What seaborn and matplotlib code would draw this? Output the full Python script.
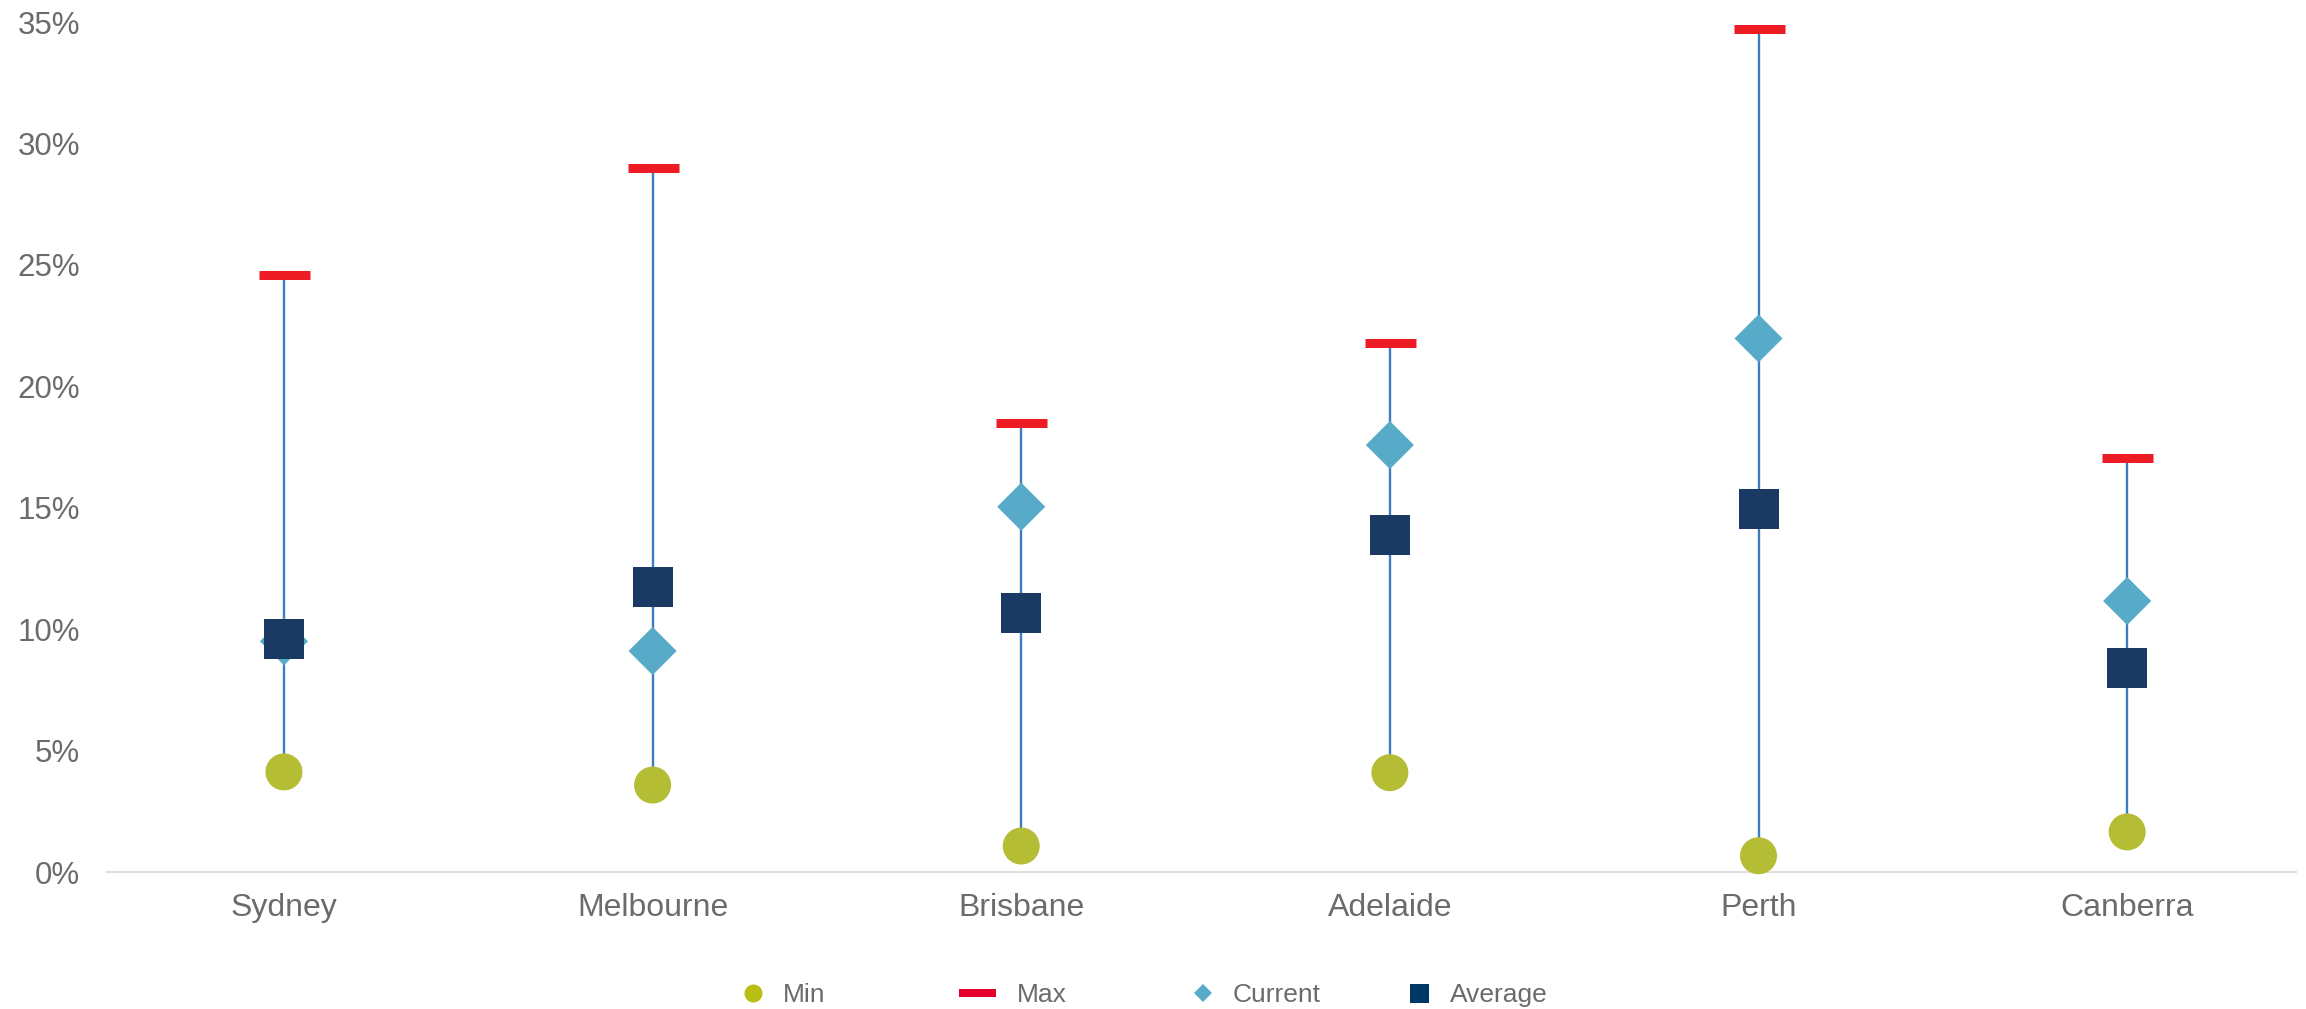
import matplotlib
matplotlib.use("Agg")
import matplotlib.pyplot as plt
from matplotlib.lines import Line2D
from matplotlib.ticker import PercentFormatter
import seaborn as sns
import pandas as pd

# ---- data (fractions) ----
cities = ["Sydney", "Melbourne", "Brisbane", "Adelaide", "Perth", "Canberra"]
min_vals = [0.0412, 0.0358, 0.0107, 0.0409, 0.0067, 0.0165]
max_vals = [0.246, 0.290, 0.185, 0.218, 0.347, 0.1705]
current_vals = [0.095, 0.091, 0.1504, 0.1758, 0.2197, 0.1116]
average_vals = [0.0960, 0.1172, 0.1066, 0.1388, 0.1495, 0.0840]
y_ticks = [0.0, 0.05, 0.10, 0.15, 0.20, 0.25, 0.30, 0.35]

df = pd.DataFrame({"city": cities, "Min": min_vals, "Max": max_vals,
                   "Current": current_vals, "Average": average_vals})

sns.set_theme(style="white")
plt.rcParams["font.family"] = ["Liberation Sans", "DejaVu Sans"]

W, H = 2306, 1009
fig = plt.figure(figsize=(W / 100, H / 100), dpi=100)
ax = fig.add_axes([107 / W, 1 - 872 / H, (2296 - 107) / W, (872 - 22) / H])

C_MIN = "#b5bd35"
C_MAX = "#ed1c24"
C_CUR = "#58abc8"
C_AVG = "#1a3a64"
C_WHISK = "#3b7dc0"
TXT = "#6b6b6b"

xpos = list(range(len(cities)))
ax.vlines(xpos, df["Min"], df["Max"], color=C_WHISK, linewidth=1.7, zorder=1)

px = 0.72  # points per pixel at dpi 100
sns.scatterplot(data=df, x="city", y="Min", ax=ax, marker="o", s=(37 * px) ** 2,
                color=C_MIN, edgecolor="none", linewidth=0, zorder=3, clip_on=False)
sns.scatterplot(data=df, x="city", y="Max", ax=ax, marker="_", s=(51 * px) ** 2,
                color=C_MAX, linewidth=9 * px, zorder=3, clip_on=False)
sns.scatterplot(data=df, x="city", y="Current", ax=ax, marker="D", s=(34 * px) ** 2,
                color=C_CUR, edgecolor="none", linewidth=0, zorder=4, clip_on=False)
sns.scatterplot(data=df, x="city", y="Average", ax=ax, marker="s", s=(40 * px) ** 2,
                color=C_AVG, edgecolor="none", linewidth=0, zorder=5, clip_on=False)

ax.set_xlim(-0.48, 5.458)
ax.set_ylim(0, 0.35)
ax.set_yticks(y_ticks)
ax.yaxis.set_major_formatter(PercentFormatter(1.0, decimals=0))
ax.set_xticks(xpos)
ax.set_xticklabels(cities)
ax.set_xlabel("")
ax.set_ylabel("")
ax.tick_params(axis="y", length=0, pad=19.5, labelsize=22.5, labelcolor=TXT)
ax.tick_params(axis="x", length=0, pad=15, labelsize=23, labelcolor=TXT)
for s in ["left", "right", "top"]:
    ax.spines[s].set_visible(False)
ax.spines["bottom"].set_color("#e0e0e0")
ax.spines["bottom"].set_linewidth(1.6)
ax.grid(False)

# ---- legend: one entry per item, placed like the reference ----
fs = 19
em = fs / px  # pixels per em
items = [
    (Line2D([], [], linestyle="none", marker="o", markersize=18 * px,
            markerfacecolor="#b9bf15", markeredgewidth=0), "Min", 753, 30),
    (Line2D([], [], linestyle="none", marker="_", markersize=37 * px,
            markeredgecolor="#e4002b", markeredgewidth=8 * px), "Max", 977, 40),
    (Line2D([], [], linestyle="none", marker="D", markersize=13.4 * px,
            markerfacecolor="#58abc8", markeredgewidth=0), "Current", 1203, 30),
    (Line2D([], [], linestyle="none", marker="s", markersize=19 * px,
            markerfacecolor="#003865", markeredgewidth=0), "Average", 1419, 31),
]
for handle, label, xc, gap in items:
    hl_px = em * 1.0
    left = xc - hl_px / 2
    pad_em = (gap - hl_px / 2) / em
    leg = fig.legend(handles=[handle], labels=[label], loc="center left",
                     bbox_to_anchor=(left / W, 1 - 995 / H), frameon=False,
                     fontsize=fs, handlelength=1.0, handletextpad=pad_em,
                     borderpad=0, borderaxespad=0)
    for t in leg.get_texts():
        t.set_color(TXT)

fig.savefig("out.png", dpi=100, facecolor="white")
